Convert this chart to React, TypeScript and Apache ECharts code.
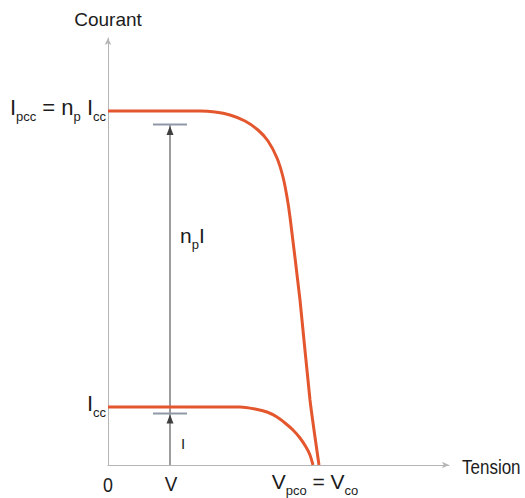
import React, { useEffect, useRef } from "react";
import * as echarts from "echarts";

// I–V characteristic of one cell and of np cells in parallel (schematic units)
const arrayCurve: number[][] = [
  [0, 354], [92, 354], [107, 353], [122, 350], [137, 344], [150, 335],
  [160, 324], [169, 307], [175, 288], [179, 268], [182, 248], [192, 165],
  [202, 65], [211, 0],
];
const cellCurve: number[][] = [
  [0, 58], [132, 58], [147, 56], [159, 53], [169, 48], [177, 42],
  [185, 35], [192, 27], [198, 18], [202, 10], [205, 0],
];

const operatingVoltage = 62; // V
const cellCurrent = 51.5; // I
const arrayCurrent = 340.5; // np·I
const arrayShortCircuit = 354; // Ipcc
const cellShortCircuit = 58; // Icc
const openCircuitVoltage = 205; // Vpco = Vco

const xMax = 341;
const yMax = 427;

const FONT = "'Liberation Sans', Arial, sans-serif";
const TEXT = "#1c1c1c";
const CURVE = "#e4572e";

const richStyles = (main: number, sub: number) => ({
  m: {
    fontSize: main,
    lineHeight: main,
    fontFamily: FONT,
    fill: TEXT,
    verticalAlign: "bottom",
    padding: [0, 0, 5, 0],
  },
  s: {
    fontSize: sub,
    lineHeight: sub,
    fontFamily: FONT,
    fill: TEXT,
    verticalAlign: "bottom",
  },
});

export default function App() {
  const ref = useRef<HTMLDivElement>(null);

  useEffect(() => {
    if (!ref.current) return;
    const chart = echarts.init(ref.current, null, { renderer: "svg" });

    const axisLine = {
      show: true,
      symbol: ["none", "arrow"],
      symbolSize: [5, 7],
      lineStyle: { color: "#b5b5b5", width: 1 },
    };

    chart.setOption({
      animation: false,
      backgroundColor: "#ffffff",
      grid: { left: 108, top: 38, right: 76, bottom: 33 },
      xAxis: {
        type: "value",
        min: 0,
        max: xMax,
        axisLine,
        axisTick: { show: false },
        axisLabel: { show: false },
        splitLine: { show: false },
      },
      yAxis: {
        type: "value",
        min: 0,
        max: yMax,
        axisLine,
        axisTick: { show: false },
        axisLabel: { show: false },
        splitLine: { show: false },
      },
      series: [
        {
          type: "line",
          data: [
            [operatingVoltage, 0],
            [operatingVoltage, arrayCurrent],
          ],
          showSymbol: false,
          lineStyle: { color: "#3a3a3a", width: 1 },
          silent: true,
        },
        {
          type: "line",
          data: [
            [operatingVoltage - 17, cellCurrent],
            [operatingVoltage + 17, cellCurrent],
          ],
          showSymbol: false,
          lineStyle: { color: "#9097a8", width: 2 },
          silent: true,
        },
        {
          type: "line",
          data: [
            [operatingVoltage - 17, arrayCurrent],
            [operatingVoltage + 17, arrayCurrent],
          ],
          showSymbol: false,
          lineStyle: { color: "#9097a8", width: 2 },
          silent: true,
        },
        {
          type: "line",
          data: arrayCurve,
          showSymbol: false,
          smooth: 0.2,
          lineStyle: { color: CURVE, width: 3 },
          silent: true,
        },
        {
          type: "line",
          data: cellCurve,
          showSymbol: false,
          smooth: 0.2,
          lineStyle: { color: CURVE, width: 3 },
          silent: true,
        },
        {
          type: "scatter",
          data: [
            [operatingVoltage, cellCurrent - 5.5],
            [operatingVoltage, arrayCurrent - 6],
          ],
          symbol: "triangle",
          symbolSize: [7, 9],
          itemStyle: { color: "#111111" },
          silent: true,
        },
      ],
    });

    const px = (x: number, y: number) =>
      chart.convertToPixel({ gridIndex: 0 }, [x, y]) as number[];

    const top = px(0, yMax);
    const end = px(xMax, 0);
    const ipcc = px(0, arrayShortCircuit);
    const icc = px(0, cellShortCircuit);
    const origin = px(0, 0);
    const vOp = px(operatingVoltage, 0);
    const vOc = px(openCircuitVoltage, 0);
    const iMid = px(operatingVoltage, cellCurrent / 2);
    const npMid = px(operatingVoltage, (arrayCurrent + cellCurrent) / 2 + 29);

    const plain = (
      x: number,
      y: number,
      text: string,
      size: number,
      align: string,
      scaleX = 1
    ) => ({
      type: "text",
      x,
      y,
      scaleX,
      style: {
        text,
        fontSize: size,
        fontFamily: FONT,
        fill: TEXT,
        align,
        verticalAlign: "middle",
      },
    });

    const rich = (
      x: number,
      y: number,
      text: string,
      align: string,
      main: number,
      sub: number
    ) => ({
      type: "text",
      x,
      y,
      style: {
        text,
        align,
        verticalAlign: "middle",
        rich: richStyles(main, sub),
      },
    });

    chart.setOption({
      graphic: [
        plain(top[0], top[1] - 19, "Courant", 19, "center"),
        plain(end[0] + 13, end[1] + 2, "Tension", 20, "left", 0.85),
        rich(ipcc[0] - 2, ipcc[1] + 1, "{m|I}{s|pcc}{m| = n}{s|p}{m| I}{s|cc}", "right", 22, 13),
        rich(icc[0] - 2, icc[1] + 1, "{m|I}{s|cc}", "right", 22, 13),
        plain(origin[0], origin[1] + 19, "0", 21, "center", 0.85),
        plain(vOp[0] + 1, vOp[1] + 19, "V", 21, "center", 0.9),
        rich(vOc[0] + 2, vOc[1] + 21, "{m|V}{s|pco}{m| = V}{s|co}", "center", 21, 13),
        plain(iMid[0] + 13, iMid[1] + 4, "I", 15, "center"),
        rich(npMid[0] + 10, npMid[1], "{m|n}{s|p}{m|I}", "left", 21, 13),
      ],
    });

    return () => chart.dispose();
  }, []);

  return (
    <div
      ref={ref}
      style={{ position: "fixed", left: 0, top: 0, width: 525, height: 498 }}
    />
  );
}
